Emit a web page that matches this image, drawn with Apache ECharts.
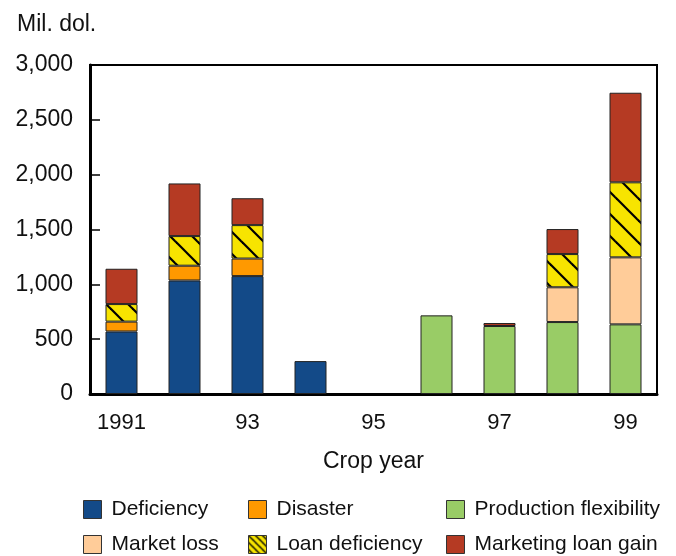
<!DOCTYPE html>
<html>
<head>
<meta charset="utf-8">
<style>html,body{margin:0;padding:0;background:#fff}#c{width:676px;height:556px}</style>
<script src="https://cdn.jsdelivr.net/npm/echarts@6/dist/echarts.min.js"></script>
</head>
<body>
<div id="c"></div>
<script>
const years = ['1991','1992','1993','1994','1995','1996','1997','1998','1999'];
const yearLabels = ['1991','','93','','95','','97','','99'];
const deficiency = [570, 1035, 1075, 300, null, null, null, null, null];
const disaster = [90, 135, 160, null, null, null, null, null, null];
const productionFlex = [null, null, null, null, null, 717, 620, 656, 635];
const marketLoss = [null, null, null, null, null, null, null, 317, 611];
const loanDeficiency = [160, 270, 305, null, null, null, null, 303, 684];
const marketingLoanGain = [322, 480, 245, null, null, null, 27, 228, 817];
const yTicks = [0, 500, 1000, 1500, 2000, 2500, 3000];

function hatch(size, lw) {
  const c = document.createElement('canvas');
  c.width = size; c.height = size;
  const g = c.getContext('2d');
  g.fillStyle = '#f7e400';
  g.fillRect(0, 0, size, size);
  g.strokeStyle = '#000';
  g.lineWidth = lw;
  for (let k = -1; k <= 1; k++) {
    g.beginPath();
    g.moveTo(-5, -5 + k * size);
    g.lineTo(size + 5, size + 5 + k * size);
    g.stroke();
  }
  return c;
}
const hatchBig = { image: hatch(22, 2.2), repeat: 'repeat' };
const hatchSmall = { image: hatch(7, 1.3), repeat: 'repeat' };

const font = 'Liberation Sans, Arial, sans-serif';
const txt = '#111';
const border = { borderColor: '#222', borderWidth: 1 };

const seriesDefs = [
  ['Deficiency', deficiency, '#134a88'],
  ['Disaster', disaster, '#ff9900'],
  ['Production flexibility', productionFlex, '#99cc66'],
  ['Market loss', marketLoss, '#ffcc99'],
  ['Loan deficiency', loanDeficiency, hatchBig],
  ['Marketing loan gain', marketingLoanGain, '#b53a23']
];

const legendPos = [
  [83, 499], [248, 499], [446, 499],
  [83, 534], [248, 534], [446, 534]
];

const legends = seriesDefs.map((s, i) => ({
  left: legendPos[i][0], top: legendPos[i][1],
  itemWidth: 18, itemHeight: 18, itemGap: 0,
  icon: 'rect',
  selectedMode: false,
  padding: 0,
  textStyle: { fontFamily: font, fontSize: 21, color: txt, padding: [0, 0, 0, 5] },
  itemStyle: { borderColor: '#333', borderWidth: 1 },
  data: [i === 4 ? { name: s[0], itemStyle: { color: hatchSmall, borderColor: '#333', borderWidth: 1 } } : s[0]]
}));

const chart = echarts.init(document.getElementById('c'), null, { renderer: 'canvas' });
chart.setOption({
  animation: false,
  backgroundColor: '#fff',
  title: {
    text: 'Mil. dol.', left: 12, top: 8,
    textStyle: { fontFamily: font, fontSize: 23, fontWeight: 'normal', color: txt }
  },
  legend: legends,
  grid: {
    left: 90, right: 19, top: 65, bottom: 162,
    show: true, borderColor: '#000', borderWidth: 2, backgroundColor: 'transparent'
  },
  xAxis: {
    type: 'category',
    data: years,
    name: 'Crop year',
    nameLocation: 'middle',
    nameGap: 56,
    nameTextStyle: { fontFamily: font, fontSize: 23, color: txt },
    axisLine: { lineStyle: { color: '#000', width: 3 } },
    axisTick: { alignWithLabel: true, interval: 0, length: 7, lineStyle: { color: '#000', width: 1.5 } },
    axisLabel: {
      interval: 0, margin: 18,
      fontFamily: font, fontSize: 22, color: txt,
      formatter: (v, i) => yearLabels[i]
    }
  },
  yAxis: {
    type: 'value',
    min: yTicks[0], max: yTicks[yTicks.length - 1], interval: 500,
    axisLine: { show: true, lineStyle: { color: '#000', width: 3 } },
    axisTick: { show: true, inside: true, length: 10, lineStyle: { color: '#000', width: 1.5 } },
    splitLine: { show: false },
    axisLabel: {
      margin: 17, fontFamily: font, fontSize: 23, color: txt,
      padding: [4, 0, 0, 0],
      formatter: v => v.toLocaleString('en-US')
    }
  },
  series: seriesDefs.map(s => ({
    name: s[0],
    type: 'bar',
    stack: 'total',
    barWidth: 32,
    data: s[1],
    itemStyle: Object.assign({ color: s[2] }, border)
  }))
});
</script>
</body>
</html>
